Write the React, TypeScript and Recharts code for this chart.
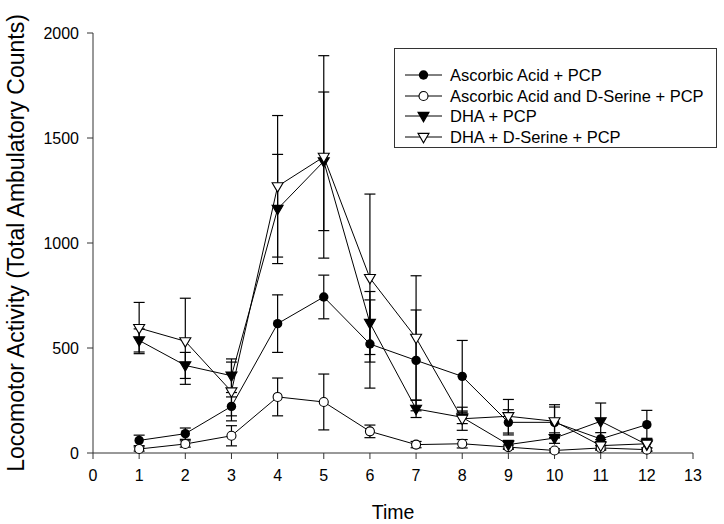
import { LineChart, Line, XAxis, YAxis, ErrorBar, Legend } from 'recharts';

// time points (x)
const times = [1, 2, 3, 4, 5, 6, 7, 8, 9, 10, 11, 12];

// Ascorbic Acid + PCP
const ascorbic = [60, 92, 222, 616, 743, 519, 441, 365, 146, 146, 67, 135];
const ascorbicErr = [25, 27, 45, 137, 104, 210, 240, 171, 60, 73, 30, 68];

// Ascorbic Acid and D-Serine + PCP
const ascorbicSer = [19, 43, 82, 267, 243, 103, 40, 44, 28, 12, 24, 16];
const ascorbicSerErr = [10, 15, 48, 90, 133, 30, 15, 20, 10, 8, 10, 8];

// DHA + PCP
const dha = [536, 417, 368, 1162, 1389, 619, 210, 170, 40, 71, 151, 40];
const dhaErr = [55, 62, 80, 260, 330, 150, 41, 30, 20, 25, 87, 30];

// DHA + D-Serine + PCP
const dhaSer = [595, 532, 293, 1270, 1410, 833, 548, 163, 175, 151, 35, 44];
const dhaSerErr = [122, 205, 140, 337, 482, 400, 296, 55, 80, 79, 20, 20];

const seriesNames = [
  'Ascorbic Acid + PCP',
  'Ascorbic Acid and D-Serine + PCP',
  'DHA + PCP',
  'DHA + D-Serine + PCP',
];

const xTicks = [0, 1, 2, 3, 4, 5, 6, 7, 8, 9, 10, 11, 12, 13];
const yTicks = [0, 500, 1000, 1500, 2000];

const data = times.map((t, i) => ({
  time: t,
  aa: ascorbic[i],
  aaErr: ascorbicErr[i],
  aas: ascorbicSer[i],
  aasErr: ascorbicSerErr[i],
  dha: dha[i],
  dhaErr: dhaErr[i],
  dhas: dhaSer[i],
  dhasErr: dhaSerErr[i],
}));

const FONT = '"Liberation Sans", Arial, sans-serif';
const markerKinds = ['filledCircle', 'openCircle', 'filledTri', 'openTri'];

function Marker({ kind, cx, cy }: { kind: string; cx: number; cy: number }) {
  if (kind === 'filledCircle') return <circle cx={cx} cy={cy} r={4.7} fill="#000" />;
  if (kind === 'openCircle')
    return <circle cx={cx} cy={cy} r={4.5} fill="#fff" stroke="#000" strokeWidth={1.1} />;
  const pts = `${cx - 5.5},${cy - 3.6} ${cx + 5.5},${cy - 3.6} ${cx},${cy + 5.8}`;
  const filled = kind === 'filledTri';
  return <polygon points={pts} fill={filled ? '#000' : '#fff'} stroke="#000" strokeWidth={1.1} />;
}

const makeDot = (kind: string) => (p: any) => {
  const { cx, cy, index } = p;
  if (cx == null || cy == null) return <g key={`${kind}-${index}`} />;
  return <Marker key={`${kind}-${index}`} kind={kind} cx={cx} cy={cy} />;
};

const renderLegend = () => (
  <div
    style={{
      boxSizing: 'border-box',
      width: 323,
      height: 100,
      border: '1px solid #333',
      background: '#fff',
      paddingTop: 16,
      paddingLeft: 10,
      fontFamily: FONT,
      fontSize: 16.5,
      color: '#000',
    }}
  >
    {seriesNames.map((name, i) => (
      <div key={name} style={{ display: 'flex', alignItems: 'center', height: 20.5, lineHeight: '20.5px' }}>
        <svg width={37} height={14} style={{ marginRight: 8, flex: 'none' }}>
          <line x1={0} y1={7} x2={37} y2={7} stroke="#000" strokeWidth={1} />
          <Marker kind={markerKinds[i]} cx={18.5} cy={7} />
        </svg>
        <span style={{ whiteSpace: 'nowrap' }}>{name}</span>
      </div>
    ))}
  </div>
);

export default function App() {
  const lineProps = {
    type: 'linear' as const,
    stroke: '#000',
    strokeWidth: 1,
    isAnimationActive: false,
    activeDot: false,
    legendType: 'none' as const,
  };
  const errProps = { stroke: '#000', strokeWidth: 1.2, width: 5.5, isAnimationActive: false };

  return (
    <div style={{ position: 'absolute', left: 0, top: 0, background: '#fff' }}>
      <LineChart
        width={724}
        height={524}
        data={data}
        margin={{ top: 33, right: 31, left: 0, bottom: 0 }}
        style={{ fontFamily: FONT }}
      >
        <XAxis
          dataKey="time"
          type="number"
          domain={[0, 13]}
          ticks={xTicks}
          interval={0}
          height={71}
          tickSize={6}
          tickMargin={11}
          stroke="#333"
          tick={{ fill: '#000', fontSize: 16 }}
          label={{ value: 'Time', position: 'insideBottom', offset: 5, fill: '#000', fontSize: 19.5 }}
        />
        <YAxis
          type="number"
          domain={[0, 2000]}
          ticks={yTicks}
          interval={0}
          width={93}
          tickSize={6}
          tickMargin={8}
          stroke="#333"
          tick={{ fill: '#000', fontSize: 16 }}
          label={{
            value: 'Locomotor Activity (Total Ambulatory Counts)',
            angle: -90,
            position: 'insideLeft',
            offset: 16,
            fill: '#000',
            fontSize: 23,
            style: { textAnchor: 'middle' },
          }}
        />
        <Legend
          layout="vertical"
          verticalAlign="middle"
          align="center"
          wrapperStyle={{ left: 394, top: 48, width: 323, height: 100 }}
          content={renderLegend}
        />
        <Line dataKey="aa" {...lineProps} dot={makeDot('filledCircle')}>
          <ErrorBar dataKey="aaErr" {...errProps} />
        </Line>
        <Line dataKey="aas" {...lineProps} dot={makeDot('openCircle')}>
          <ErrorBar dataKey="aasErr" {...errProps} />
        </Line>
        <Line dataKey="dha" {...lineProps} dot={makeDot('filledTri')}>
          <ErrorBar dataKey="dhaErr" {...errProps} />
        </Line>
        <Line dataKey="dhas" {...lineProps} dot={makeDot('openTri')}>
          <ErrorBar dataKey="dhasErr" {...errProps} />
        </Line>
      </LineChart>
    </div>
  );
}
